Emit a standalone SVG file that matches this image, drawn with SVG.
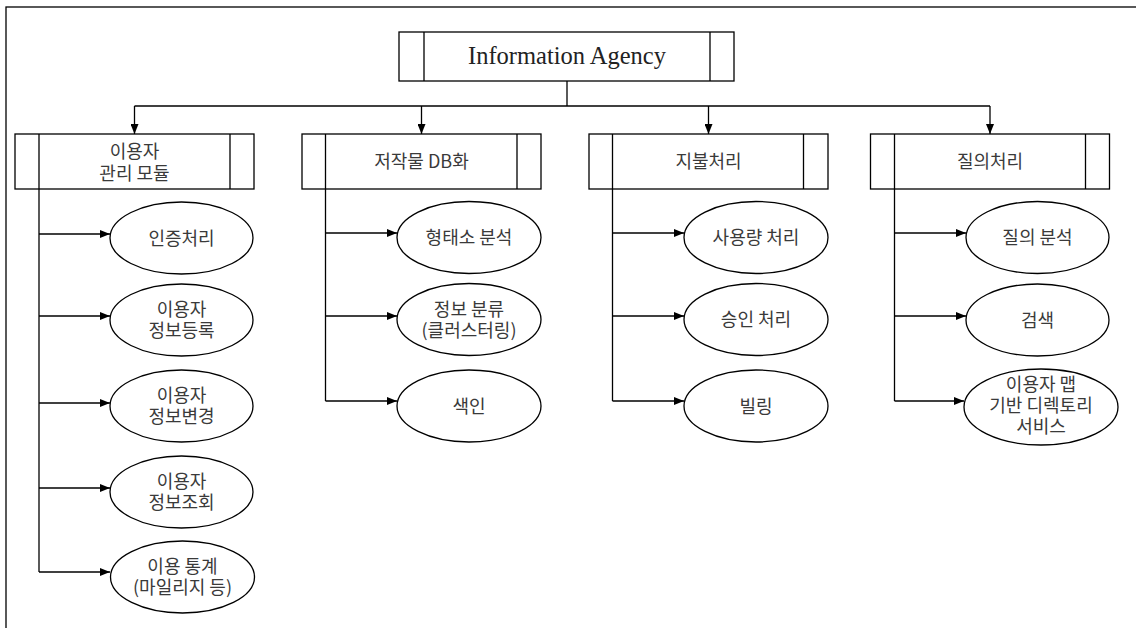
<svg xmlns="http://www.w3.org/2000/svg" width="1136" height="628" viewBox="0 0 1136 628">
<defs>
<marker id="ah" markerWidth="10" markerHeight="8" refX="10" refY="4" orient="auto" markerUnits="userSpaceOnUse">
<path d="M0,0 L10,4 L0,8 Z" fill="#000"/>
</marker>
<style>
.b{fill:#fff;stroke:#000;stroke-width:1.3}
.l{fill:none;stroke:#000;stroke-width:1.3}
.c{fill:none;stroke:#000;stroke-width:1.3;marker-end:url(#ah)}
.t{font-family:"Noto Sans CJK KR","Liberation Serif",sans-serif;font-size:18px;fill:#3a3a3a;text-anchor:middle}
.e{font-family:"Liberation Serif","Noto Sans CJK KR",serif;font-size:24.5px;fill:#222;text-anchor:middle}
</style>
</defs>
<rect x="0" y="0" width="1136" height="628" fill="#fff"/>
<rect x="6" y="7" width="1140" height="640" class="l"/>

<g id="connectors">
<path class="l" d="M567,81 V106"/>
<path class="l" d="M134.5,106 H990"/>
<path class="c" d="M134.5,106 V134"/>
<path class="c" d="M421.5,106 V134"/>
<path class="c" d="M708.5,106 V134"/>
<path class="c" d="M990,106 V134"/>
<path class="l" d="M39,189 V572"/>
<path class="c" d="M39,234 H110"/>
<path class="c" d="M39,316 H110"/>
<path class="c" d="M39,403 H110"/>
<path class="c" d="M39,488 H110"/>
<path class="c" d="M39,572 H110"/>
<path class="l" d="M325.5,189 V401"/>
<path class="c" d="M325.5,233 H397"/>
<path class="c" d="M325.5,316 H397"/>
<path class="c" d="M325.5,401 H397"/>
<path class="l" d="M612.5,189 V401"/>
<path class="c" d="M612.5,233 H684"/>
<path class="c" d="M612.5,316 H684"/>
<path class="c" d="M612.5,401 H684"/>
<path class="l" d="M894.5,189 V401"/>
<path class="c" d="M894.5,233 H966"/>
<path class="c" d="M894.5,316 H966"/>
<path class="c" d="M894.5,401 H964"/>
</g>

<g id="root">
<rect class="b" x="399" y="32" width="335" height="49"/>
<path class="l" d="M424,32 V81 M710,32 V81"/>
<text class="e" x="567" y="64">Information Agency</text>
</g>

<g id="m1">
<rect class="b" x="15" y="134" width="239" height="55"/>
<path class="l" d="M39,134 V189 M230,134 V189"/>
<text class="t" x="134.5" y="158">이용자</text>
<text class="t" x="134.5" y="180">관리 모듈</text>
</g>
<g id="m2">
<rect class="b" x="302" y="134" width="239" height="55"/>
<path class="l" d="M325.5,134 V189 M517,134 V189"/>
<text class="t" x="421.5" y="168">저작물 DB화</text>
</g>
<g id="m3">
<rect class="b" x="589" y="134" width="239" height="55"/>
<path class="l" d="M612.5,134 V189 M803.5,134 V189"/>
<text class="t" x="708.5" y="168">지불처리</text>
</g>
<g id="m4">
<rect class="b" x="870.5" y="134" width="239" height="55"/>
<path class="l" d="M894.5,134 V189 M1085.5,134 V189"/>
<text class="t" x="990" y="168">질의처리</text>
</g>

<g id="a1"><ellipse class="b" cx="181.5" cy="238" rx="71.5" ry="36"/><text class="t" x="181.5" y="244.5">인증처리</text></g>
<g id="a2"><ellipse class="b" cx="181.5" cy="320" rx="71.5" ry="36"/><text class="t" x="181.5" y="316">이용자</text><text class="t" x="181.5" y="337">정보등록</text></g>
<g id="a3"><ellipse class="b" cx="181.5" cy="406" rx="71.5" ry="36"/><text class="t" x="181.5" y="402">이용자</text><text class="t" x="181.5" y="423">정보변경</text></g>
<g id="a4"><ellipse class="b" cx="181.5" cy="492" rx="71.5" ry="36"/><text class="t" x="181.5" y="488">이용자</text><text class="t" x="181.5" y="509">정보조회</text></g>
<g id="a5"><ellipse class="b" cx="182.5" cy="577" rx="72" ry="36"/><text class="t" x="182.5" y="573">이용 통계</text><text class="t" x="182.5" y="594">(마일리지 등)</text></g>

<g id="b1"><ellipse class="b" cx="469" cy="237.5" rx="72" ry="36"/><text class="t" x="469" y="244">형태소 분석</text></g>
<g id="b2"><ellipse class="b" cx="469" cy="319.5" rx="72" ry="36"/><text class="t" x="469" y="315.5">정보 분류</text><text class="t" x="469" y="336.5">(클러스터링)</text></g>
<g id="b3"><ellipse class="b" cx="469" cy="406" rx="72" ry="36"/><text class="t" x="469" y="412.5">색인</text></g>

<g id="c1"><ellipse class="b" cx="756" cy="237.5" rx="72" ry="36"/><text class="t" x="756" y="244">사용량 처리</text></g>
<g id="c2"><ellipse class="b" cx="756" cy="319.5" rx="72" ry="36"/><text class="t" x="756" y="326">승인 처리</text></g>
<g id="c3"><ellipse class="b" cx="756" cy="406" rx="72" ry="36"/><text class="t" x="756" y="412.5">빌링</text></g>

<g id="d1"><ellipse class="b" cx="1037.5" cy="237.5" rx="71.5" ry="36"/><text class="t" x="1037.5" y="244">질의 분석</text></g>
<g id="d2"><ellipse class="b" cx="1037.5" cy="320" rx="71.5" ry="36"/><text class="t" x="1037.5" y="326.5">검색</text></g>
<g id="d3"><ellipse class="b" cx="1041" cy="407" rx="77" ry="38"/><text class="t" x="1041" y="391">이용자 맵</text><text class="t" x="1041" y="412">기반 디렉토리</text><text class="t" x="1041" y="433">서비스</text></g>
</svg>
